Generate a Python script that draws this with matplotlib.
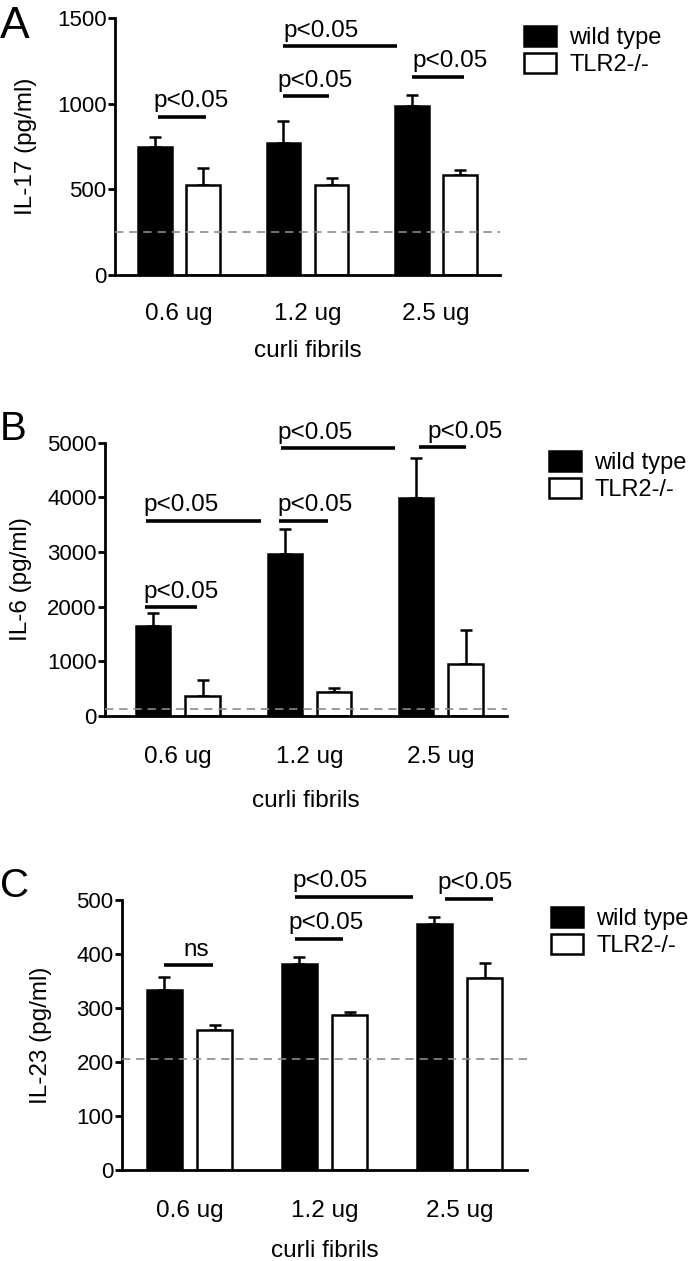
import matplotlib

matplotlib.use("Agg")
import matplotlib.pyplot as plt
import numpy as np
from matplotlib.patches import Patch

plt.rcParams["font.family"] = ["Liberation Sans", "DejaVu Sans"]

doses = ["0.6 ug", "1.2 ug", "2.5 ug"]
groups = ["wild type", "TLR2-/-"]

# IL-17 (pg/ml)
il17_wt = [745, 768, 986]
il17_wt_err = [62, 132, 64]
il17_ko = [523, 525, 585]
il17_ko_err = [101, 41, 30]
il17_base = 249
il17_ticks = [0, 500, 1000, 1500]

# IL-6 (pg/ml)
il6_wt = [1646, 2963, 3994]
il6_wt_err = [244, 458, 732]
il6_ko = [372, 439, 951]
il6_ko_err = [287, 67, 622]
il6_base = 122
il6_ticks = [0, 1000, 2000, 3000, 4000, 5000]

# IL-23 (pg/ml)
il23_wt = [333, 381, 455]
il23_wt_err = [25, 13, 13]
il23_ko = [260, 287, 355]
il23_ko_err = [8, 5, 28]
il23_base = 206
il23_ticks = [0, 100, 200, 300, 400, 500]

# significance bars: (x start, x end, y, label, label x)
il17_sig = [
    (-0.163, 0.21, 922, "p<0.05", -0.195),
    (0.81, 1.167, 1043, "p<0.05", 0.763),
    (0.81, 1.70, 1335, "p<0.05", 0.81),
    (1.81, 2.22, 1156, "p<0.05", 1.82),
]
il6_sig = [
    (-0.25, 0.145, 1988, "p<0.05", -0.266),
    (-0.245, 0.63, 3573, "p<0.05", -0.266),
    (0.77, 1.137, 3573, "p<0.05", 0.757),
    (0.78, 1.65, 4896, "p<0.05", 0.757),
    (1.83, 2.19, 4915, "p<0.05", 1.90),
]
il23_sig = [
    (-0.19, 0.174, 379, "ns", -0.048),
    (0.78, 1.137, 428, "p<0.05", 0.73),
    (0.78, 1.655, 506, "p<0.05", 0.76),
    (1.89, 2.25, 502, "p<0.05", 1.84),
]

W, H = 700, 1261
fig = plt.figure(figsize=(W / 100, H / 100), dpi=100)


def px(l, t, r, b):
    return [l / W, 1 - b / H, (r - l) / W, (b - t) / H]


panels = [
    dict(letter="A", size=32, letter_xy=(0, 38), rect=px(115, 18, 500, 275), xlim=(-0.498, 2.498),
         wt=il17_wt, wt_err=il17_wt_err, ko=il17_ko, ko_err=il17_ko_err,
         base=il17_base, ticks=il17_ticks, ylabel="IL-17 (pg/ml)", ylab_x=-0.203,
         sig=il17_sig, leg=(524, 26), xpad=20, labelpad=11),
    dict(letter="B", size=29, letter_xy=(0, 440), rect=px(105, 442.7, 507, 716), xlim=(-0.555, 2.502),
         wt=il6_wt, wt_err=il6_wt_err, ko=il6_ko, ko_err=il6_ko_err,
         base=il6_base, ticks=il6_ticks, ylabel="IL-6 (pg/ml)", ylab_x=-0.182,
         sig=il6_sig, leg=(549, 451), xpad=21.5, labelpad=16),
    dict(letter="C", size=29, letter_xy=(0, 897), rect=px(122, 900, 527, 1170), xlim=(-0.5, 2.5),
         wt=il23_wt, wt_err=il23_wt_err, ko=il23_ko, ko_err=il23_ko_err,
         base=il23_base, ticks=il23_ticks, ylabel="IL-23 (pg/ml)", ylab_x=-0.173,
         sig=il23_sig, leg=(551, 907), xpad=21.5, labelpad=13),
]

x = np.arange(len(doses))
off = 0.187
bw = 0.26

for p in panels:
    ax = fig.add_axes(p["rect"])
    ax.bar(x - off, p["wt"], bw, color="black", edgecolor="black", linewidth=1.8, zorder=2)
    ax.bar(x + off, p["ko"], bw, color="white", edgecolor="black", linewidth=1.8, zorder=2)
    for xs, vals, errs in ((x - off, p["wt"], p["wt_err"]), (x + off, p["ko"], p["ko_err"])):
        ax.errorbar(xs, vals, yerr=[np.zeros(len(errs)), errs], fmt="none",
                    ecolor="black", elinewidth=1.8, capsize=4, capthick=1.8, zorder=1)
    ax.axhline(p["base"], color="#8a8a8a", lw=1.2, dashes=(5, 3.5), zorder=3)

    for x0, x1, y, lab, tx in p["sig"]:
        ax.plot([x0, x1], [y, y], color="black", lw=2.6, solid_capstyle="butt",
                clip_on=False, zorder=4)
        ax.annotate(lab, xy=(tx, y), xytext=(0, 7), textcoords="offset points",
                    ha="left", va="baseline", fontsize=17.5, annotation_clip=False)

    ax.set_xlim(*p["xlim"])
    ax.set_ylim(p["ticks"][0], p["ticks"][-1])
    ax.set_yticks(p["ticks"])
    ax.set_xticks(x, doses)
    ax.tick_params(axis="y", length=5, width=2, pad=1, labelsize=16)
    ax.tick_params(axis="x", length=0, pad=p["xpad"], labelsize=17.5)
    for s in ("top", "right"):
        ax.spines[s].set_visible(False)
    for s in ("left", "bottom"):
        ax.spines[s].set_linewidth(2)
    ax.set_xlabel("curli fibrils", fontsize=17.5, labelpad=p["labelpad"])
    ax.set_ylabel(p["ylabel"], fontsize=17.5)
    ax.yaxis.set_label_coords(p["ylab_x"], 0.5)

    handles = [Patch(facecolor="black", edgecolor="black", linewidth=1.8),
               Patch(facecolor="white", edgecolor="black", linewidth=1.8)]
    ax.legend(handles, groups, loc="upper left",
              bbox_to_anchor=(p["leg"][0] / W, 1 - p["leg"][1] / H),
              bbox_transform=fig.transFigure, frameon=False, fontsize=17,
              borderpad=0, borderaxespad=0, handlelength=1.36, handleheight=0.95,
              handletextpad=0.55, labelspacing=0.15)

    fig.text(p["letter_xy"][0] / W, 1 - p["letter_xy"][1] / H, p["letter"],
             fontsize=p["size"], ha="left", va="baseline")

fig.savefig("out.png", dpi=100)
